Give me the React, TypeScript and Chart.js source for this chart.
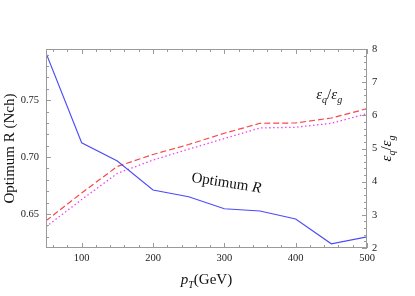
import React, { useEffect, useRef } from "react";
import { Chart, registerables } from "chart.js";

Chart.register(...registerables);

// ---- data ----
const pT = [50, 100, 150, 200, 250, 300, 350, 400, 450, 500];
const optimumR = [0.7915, 0.7125, 0.6965, 0.671, 0.665, 0.6545, 0.6525, 0.6455, 0.6237, 0.6298];
const epsRatioDashed = [2.82, 3.66, 4.46, 4.82, 5.12, 5.46, 5.76, 5.77, 5.92, 6.2];
const epsRatioDotted = [2.64, 3.46, 4.25, 4.65, 4.98, 5.3, 5.62, 5.64, 5.76, 6.05];

const xTicks = [100, 200, 300, 400, 500];
const yLeftTicks = [0.65, 0.7, 0.75];
const yRightTicks = [2, 3, 4, 5, 6, 7, 8];

const SERIF = "'Liberation Serif', 'DejaVu Serif', serif";
const FRAME = "#9a9a9a";

type Part = { t: string; italic?: boolean; sub?: boolean };

function drawRich(ctx: CanvasRenderingContext2D, parts: Part[], size: number) {
  // draws centered at (0,0) baseline
  const fontOf = (p: Part) =>
    `${p.italic ? "italic " : ""}${p.sub ? Math.round(size * 0.68) : size}px ${SERIF}`;
  let total = 0;
  const widths = parts.map((p) => {
    ctx.font = fontOf(p);
    const w = ctx.measureText(p.t).width;
    total += w;
    return w;
  });
  let x = -total / 2;
  ctx.textAlign = "left";
  ctx.textBaseline = "alphabetic";
  parts.forEach((p, i) => {
    ctx.font = fontOf(p);
    ctx.fillText(p.t, x, p.sub ? size * 0.25 : 0);
    x += widths[i];
  });
}

const framePlugin = {
  id: "framePlugin",
  afterDraw(chart: any) {
    const { ctx, chartArea: a, scales } = chart;
    const xs = scales.x, yl = scales.y, yr = scales.y1;
    ctx.save();
    ctx.strokeStyle = FRAME;
    ctx.lineWidth = 1;
    ctx.strokeRect(a.left + 0.5, a.top + 0.5, a.right - a.left - 1, a.bottom - a.top - 1);
    ctx.beginPath();
    // x ticks (bottom and top)
    for (let v = 60; v <= 500; v += 20) {
      const px = Math.round(xs.getPixelForValue(v)) + 0.5;
      const len = v % 100 === 0 ? 5 : 3;
      ctx.moveTo(px, a.bottom);
      ctx.lineTo(px, a.bottom - len);
      ctx.moveTo(px, a.top);
      ctx.lineTo(px, a.top + len);
    }
    // left ticks
    for (let i = 63; i <= 79; i++) {
      const v = i / 100;
      const py = Math.round(yl.getPixelForValue(v)) + 0.5;
      const len = i % 5 === 0 ? 5 : 3;
      ctx.moveTo(a.left, py);
      ctx.lineTo(a.left + len, py);
    }
    // right ticks
    for (let i = 10; i <= 40; i++) {
      const v = i / 5;
      const py = Math.round(yr.getPixelForValue(v)) + 0.5;
      const len = i % 5 === 0 ? 5 : 3;
      ctx.moveTo(a.right, py);
      ctx.lineTo(a.right - len, py);
    }
    ctx.stroke();

    ctx.fillStyle = "#111";
    // left title
    ctx.save();
    ctx.translate(14, (a.top + a.bottom) / 2);
    ctx.rotate(-Math.PI / 2);
    drawRich(ctx, [{ t: "Optimum R (Nch)" }], 15);
    ctx.restore();
    // bottom title
    ctx.save();
    ctx.translate((a.left + a.right) / 2, 284);
    drawRich(ctx, [{ t: "p", italic: true }, { t: "T", italic: true, sub: true }, { t: "(GeV)" }], 15);
    ctx.restore();
    // right title
    ctx.save();
    ctx.translate(389, (a.top + a.bottom) / 2);
    ctx.rotate(-Math.PI / 2);
    ctx.translate(0, 2);
    drawRich(ctx, [
      { t: "ε", italic: true }, { t: "q", italic: true, sub: true },
      { t: "/" },
      { t: "ε", italic: true }, { t: "g", italic: true, sub: true },
    ], 15);
    ctx.restore();
    // annotations anchored to data coordinates
    ctx.save();
    ctx.translate(xs.getPixelForValue(302), yl.getPixelForValue(0.6735));
    ctx.rotate((9 * Math.PI) / 180);
    drawRich(ctx, [{ t: "Optimum " }, { t: "R", italic: true }], 15);
    ctx.restore();
    ctx.save();
    ctx.translate(xs.getPixelForValue(447), yr.getPixelForValue(6.48));
    drawRich(ctx, [
      { t: "ε", italic: true }, { t: "q", italic: true, sub: true },
      { t: "/" },
      { t: "ε", italic: true }, { t: "g", italic: true, sub: true },
    ], 15);
    ctx.restore();
    ctx.restore();
  },
};

export default function App() {
  const ref = useRef<HTMLCanvasElement | null>(null);
  useEffect(() => {
    if (!ref.current) return;
    const tickFont = { family: SERIF, size: 10.5 };
    const chart = new Chart(ref.current, {
      type: "line",
      data: {
        datasets: [
          {
            label: "Optimum R",
            data: pT.map((x, i) => ({ x, y: optimumR[i] })),
            borderColor: "rgb(75,75,250)",
            borderWidth: 1.1,
            pointRadius: 0,
            yAxisID: "y",
          },
          {
            label: "eq/eg dashed",
            data: pT.map((x, i) => ({ x, y: epsRatioDashed[i] })),
            borderColor: "rgb(250,70,70)",
            borderWidth: 1.2,
            borderDash: [6, 3],
            pointRadius: 0,
            yAxisID: "y1",
          },
          {
            label: "eq/eg dotted",
            data: pT.map((x, i) => ({ x, y: epsRatioDotted[i] })),
            borderColor: "rgb(240,70,240)",
            borderWidth: 1.3,
            borderDash: [1.5, 2.5],
            pointRadius: 0,
            yAxisID: "y1",
          },
        ],
      },
      options: {
        responsive: false,
        animation: false,
        layout: { padding: { top: 49, left: 0, right: 0, bottom: 0 } },
        plugins: { legend: { display: false }, tooltip: { enabled: false } },
        scales: {
          x: {
            type: "linear",
            min: 50,
            max: 500,
            grid: { display: false, drawTicks: false },
            border: { display: false },
            afterBuildTicks: (s: any) => { s.ticks = xTicks.map((v) => ({ value: v })); },
            afterFit: (s: any) => { s.height = 48; },
            ticks: { font: tickFont, color: "#222", padding: 4, autoSkip: false, maxRotation: 0,
              callback: (v: any) => String(v) },
          },
          y: {
            type: "linear",
            position: "left",
            min: 0.62,
            max: 0.795,
            grid: { display: false, drawTicks: false },
            border: { display: false },
            afterBuildTicks: (s: any) => { s.ticks = yLeftTicks.map((v) => ({ value: v })); },
            afterFit: (s: any) => { s.width = 46; },
            ticks: { font: tickFont, color: "#222", padding: 7,
              callback: (v: any) => Number(v).toFixed(2) },
          },
          y1: {
            type: "linear",
            position: "right",
            min: 2,
            max: 8,
            grid: { display: false, drawTicks: false },
            border: { display: false },
            afterBuildTicks: (s: any) => { s.ticks = yRightTicks.map((v) => ({ value: v })); },
            afterFit: (s: any) => { s.width = 48; },
            ticks: { font: tickFont, color: "#222", padding: 5,
              callback: (v: any) => String(v) },
          },
        },
      },
      plugins: [framePlugin],
    } as any);
    return () => chart.destroy();
  }, []);
  return (
    <div style={{ position: "absolute", left: 0, top: 0, width: 415, height: 296 }}>
      <canvas ref={ref} width={415} height={296} style={{ width: 415, height: 296 }} />
    </div>
  );
}
